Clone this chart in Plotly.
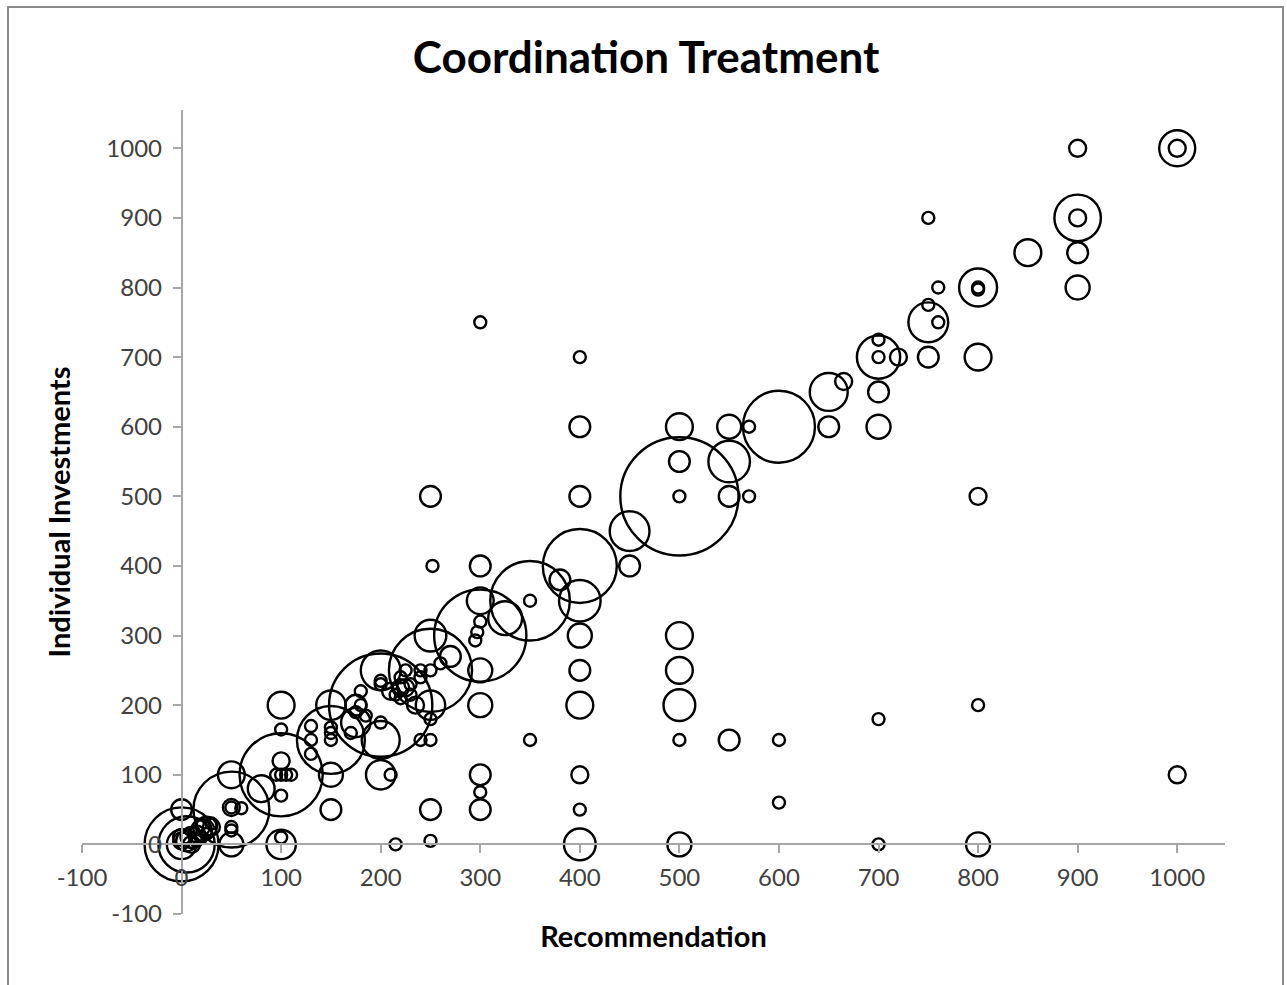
import plotly.graph_objects as go

# Bubble data: recommendation (x), individual investment (y), number of observations (bubble size)
recommendation = [
    0, 5, 0, 0, 5, 10, 15, 20, 25, 30, 20, 10, 5, 0, 30, 25, 0, 20, 15,
    50, 50, 50, 60, 50, 50, 50, 50, 80,
    100, 100, 100, 100, 95, 100, 105, 110, 100, 100, 100,
    130, 130, 130, 150, 150, 150, 150, 150, 150, 150,
    175, 175, 180, 175, 185, 170, 180, 200, 200, 200, 200, 200, 200, 200, 210,
    210, 220, 225, 230, 220, 240, 225, 215, 235, 240, 250, 240, 250, 220, 230,
    250, 250, 250, 250, 270, 260, 250, 250, 252, 250, 215,
    300, 300, 300, 300, 297, 295, 300, 300, 300, 300, 300, 300,
    325, 350, 350, 350, 380,
    400, 400, 400, 400, 400, 400, 400, 400, 400, 400, 400,
    450, 450,
    500, 500, 500, 500, 500, 500, 500, 500, 500,
    550, 550, 570, 550, 570, 550,
    600, 600, 600,
    650, 650, 665,
    700, 700, 700, 720, 700, 700, 700, 700,
    750, 750, 760, 750, 760, 750,
    800, 800, 800, 800, 800, 800, 800,
    850, 900, 900, 900, 900, 900,
    1000, 1000, 1000,
]
investment = [
    0, 0, 0, 50, 5, 10, 15, 20, 25, 25, 10, 0, 10, 5, 30, 15, 10, 25, 5,
    50, 53, 53, 52, 25, 20, 0, 100, 80,
    100, 200, 165, 120, 100, 100, 100, 100, 70, 0, 10,
    170, 150, 130, 150, 200, 168, 160, 150, 100, 50,
    175, 200, 200, 190, 185, 160, 220, 200, 250, 230, 235, 175, 150, 100, 100,
    220, 225, 225, 230, 210, 240, 250, 215, 200, 250, 250, 150, 150, 240, 215,
    300, 200, 50, 5, 270, 260, 180, 500, 400, 250, 0,
    300, 350, 400, 320, 305, 293, 250, 200, 100, 75, 50, 750,
    325, 350, 350, 150, 380,
    400, 350, 700, 600, 500, 300, 250, 200, 100, 50, 0,
    450, 400,
    500, 500, 600, 550, 300, 250, 200, 150, 0,
    550, 600, 600, 500, 500, 150,
    600, 150, 60,
    650, 600, 665,
    700, 725, 700, 700, 650, 600, 180, 0,
    750, 775, 750, 700, 800, 900,
    800, 800, 797, 700, 500, 200, 0,
    850, 900, 900, 850, 800, 1000,
    1000, 1000, 100,
]
observations = [
    38, 22, 6, 3, 3, 3, 2, 3, 3, 2, 1, 2, 1, 2, 1, 1, 2, 2, 1,
    40, 1, 2, 1, 1, 1, 4, 5, 5,
    48, 5, 1, 2, 1, 1, 1, 1, 1, 6, 1,
    1, 1, 1, 32, 6, 1, 1, 1, 4, 3,
    6, 3, 1, 1, 1, 1, 1, 74, 11, 1, 1, 1, 10, 6, 1,
    2, 2, 2, 1, 1, 1, 1, 1, 2, 1, 48, 1, 1, 1, 1,
    7, 6, 3, 1, 3, 1, 1, 3, 1, 1, 1,
    59, 5, 3, 1, 1, 1, 4, 4, 3, 1, 3, 1,
    8, 44, 1, 1, 3,
    38, 12, 1, 3, 3, 4, 3, 5, 2, 1, 7,
    11, 3,
    97, 1, 5, 3, 5, 5, 7, 1, 4,
    12, 4, 1, 3, 1, 3,
    36, 1, 1,
    10, 3, 2,
    13, 1, 1, 2, 3, 4, 1, 1,
    11, 1, 1, 3, 1, 1,
    10, 1, 1, 5, 2, 1, 4,
    5, 15, 2, 3, 4, 2,
    9, 2, 2,
]

x_ticks = list(range(-100, 1001, 100))
y_ticks = list(range(-100, 1001, 100))

X_RANGE = [-100, 1048]
Y_RANGE = [-100, 1055]

FONT = "Lato, Carlito, Calibri, sans-serif"

fig = go.Figure()
fig.add_trace(go.Scatter(
    x=recommendation,
    y=investment,
    mode="markers",
    marker=dict(
        size=observations,
        sizemode="area",
        sizeref=1 / 72,
        color="rgba(0,0,0,0)",
        opacity=1,
        line=dict(color="black", width=2.4),
    ),
    hoverinfo="x+y",
    showlegend=False,
))

tick_font = dict(family=FONT, size=24, color="#404040")
title_font = dict(family=FONT, size=29, color="black")

fig.update_layout(
    width=1287,
    height=985,
    paper_bgcolor="white",
    plot_bgcolor="white",
    margin=dict(l=82, r=62, t=110, b=71),
    title=dict(
        text="<b>Coordination Treatment</b>",
        x=0.502, xanchor="center",
        y=1 - 58 / 985, yanchor="middle",
        font=dict(family=FONT, size=44, color="black"),
    ),
    xaxis=dict(
        range=X_RANGE,
        tickvals=x_ticks,
        ticktext=[str(v) for v in x_ticks],
        showgrid=False,
        zeroline=False,
        showline=True,
        linecolor="#a6a6a6",
        linewidth=1.5,
        ticks="outside",
        ticklen=8,
        tickcolor="#a6a6a6",
        tickwidth=1.5,
        tickfont=tick_font,
        ticklabelstandoff=4,
        anchor="free",
        position=100 / (Y_RANGE[1] - Y_RANGE[0]),
        title=dict(text="<b>Recommendation</b>", font=title_font, standoff=36),
    ),
    yaxis=dict(
        range=Y_RANGE,
        tickvals=y_ticks,
        ticktext=[str(v) for v in y_ticks],
        showgrid=False,
        zeroline=False,
        showline=True,
        linecolor="#a6a6a6",
        linewidth=1.5,
        ticks="outside",
        ticklen=8,
        tickcolor="#a6a6a6",
        tickwidth=1.5,
        tickfont=tick_font,
        ticklabelstandoff=6,
        anchor="free",
        position=100 / (X_RANGE[1] - X_RANGE[0]),
        title=dict(text="<b>Individual Investments</b>", font=title_font, standoff=26),
    ),
    shapes=[
        dict(type="rect", xref="paper", yref="paper",
             x0=(8 - 82) / 1143, x1=(1283 - 82) / 1143,
             y0=(914 - 995) / 804, y1=(914 - 7) / 804,
             line=dict(color="#8c8c8c", width=2), fillcolor="rgba(0,0,0,0)",
             layer="below"),
    ],
)

fig.write_html("out.html")
